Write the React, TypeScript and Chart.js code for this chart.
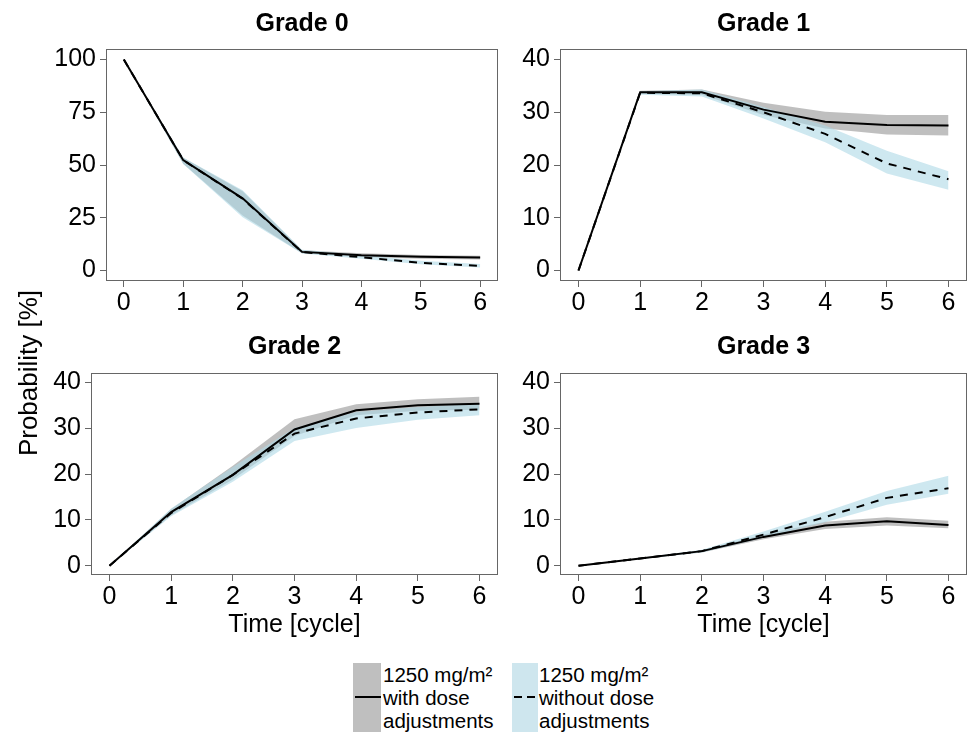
import React, { useEffect, useRef } from "react";
import { Chart, registerables } from "chart.js";

Chart.register(...registerables);

// ---------- data ----------
const cycles = [0, 1, 2, 3, 4, 5, 6];
const xTickValues = [0, 1, 2, 3, 4, 5, 6];
const yTicksGrade0 = [0, 25, 50, 75, 100];
const yTicksOther = [0, 10, 20, 30, 40];

// Grade 0
const g0With = [100, 52.3, 34.2, 8.8, 7.2, 6.5, 6.1];
const g0WithLo = [100, 50.6, 26.0, 8.2, 6.4, 5.6, 5.2];
const g0WithHi = [100, 53.4, 37.6, 9.6, 8.1, 7.3, 7.0];
const g0Without = [100, 52.3, 34.0, 8.7, 6.3, 3.6, 2.2];
const g0WithoutLo = [100, 50.5, 25.2, 8.0, 5.6, 2.9, 1.4];
const g0WithoutHi = [100, 53.5, 38.0, 9.8, 7.3, 4.6, 3.1];

// Grade 1
const g1With = [0, 33.8, 33.8, 30.5, 28.2, 27.6, 27.5];
const g1WithLo = [0, 33.5, 33.3, 29.5, 26.9, 25.8, 25.6];
const g1WithHi = [0, 34.1, 34.3, 31.8, 30.1, 29.5, 29.5];
const g1Without = [0, 33.7, 33.6, 30.0, 25.9, 20.3, 17.3];
const g1WithoutLo = [0, 33.3, 33.0, 28.8, 24.3, 18.4, 15.3];
const g1WithoutHi = [0, 34.0, 34.3, 31.0, 27.5, 22.7, 18.8];

// Grade 2
const g2With = [0, 11.7, 19.8, 29.7, 33.9, 35.0, 35.3];
const g2WithLo = [0, 11.0, 18.8, 28.3, 32.8, 33.8, 34.0];
const g2WithHi = [0, 12.4, 21.8, 31.9, 35.2, 36.3, 36.8];
const g2Without = [0, 11.5, 19.8, 28.8, 32.1, 33.4, 34.1];
const g2WithoutLo = [0, 10.8, 18.3, 27.2, 30.0, 31.8, 32.8];
const g2WithoutHi = [0, 12.5, 21.5, 30.0, 33.5, 34.6, 35.3];

// Grade 3
const g3With = [0, 1.6, 3.2, 6.3, 8.8, 9.7, 8.9];
const g3WithLo = [0, 1.5, 2.9, 5.8, 8.0, 8.8, 8.2];
const g3WithHi = [0, 1.7, 3.4, 6.8, 9.6, 10.6, 9.8];
const g3Without = [0, 1.6, 3.2, 6.8, 10.6, 14.8, 16.9];
const g3WithoutLo = [0, 1.5, 2.9, 6.1, 9.5, 13.3, 15.7];
const g3WithoutHi = [0, 1.7, 3.5, 7.5, 11.8, 16.3, 19.6];

const panelTitles = ["Grade 0", "Grade 1", "Grade 2", "Grade 3"];
const xAxisTitle = "Time [cycle]";
const yAxisTitle = "Probability [%]";
const legendWith = ["1250 mg/m²", "with dose", "adjustments"];
const legendWithout = ["1250 mg/m²", "without dose", "adjustments"];

// ---------- styling ----------
const FONT = "'Liberation Sans', Arial, Helvetica, sans-serif";
const GRAY_BAND = "rgba(128,128,128,0.5)";
const BLUE_BAND = "rgba(173,216,230,0.6)";
const AXIS_COLOR = "#666666";

const borderPlugin = {
  id: "panelBorder",
  afterDatasetsDraw(chart: any) {
    const { ctx, chartArea } = chart;
    const { left, top, right, bottom } = chartArea;
    ctx.save();
    ctx.strokeStyle = AXIS_COLOR;
    ctx.lineWidth = 1;
    ctx.strokeRect(left + 0.5, top + 0.5, right - left - 1, bottom - top - 1);
    ctx.restore();
  },
};

function pts(vals: number[]) {
  return cycles.map((x, i) => ({ x, y: vals[i] }));
}

type PanelProps = {
  title: string;
  withMid: number[];
  withLo: number[];
  withHi: number[];
  withoutMid: number[];
  withoutLo: number[];
  withoutHi: number[];
  yMin: number;
  yMax: number;
  yTicks: number[];
  left: number;
  top: number;
  width: number;
  height: number;
  yWidth: number;
  xHeight: number;
  padRight: number;
  titlePadTop: number;
  titlePadBottom: number;
  showXTitle: boolean;
};

function Panel(p: PanelProps) {
  const ref = useRef<HTMLCanvasElement | null>(null);
  useEffect(() => {
    if (!ref.current) return;
    const hidden = {
      borderWidth: 0,
      borderColor: "rgba(0,0,0,0)",
      pointRadius: 0,
      pointHoverRadius: 0,
      tension: 0,
    };
    const chart = new Chart(ref.current, {
      type: "line",
      data: {
        datasets: [
          {
            label: "with",
            data: pts(p.withMid),
            borderColor: "#000000",
            borderWidth: 2,
            pointRadius: 0,
            tension: 0,
            fill: false,
          },
          {
            label: "without",
            data: pts(p.withoutMid),
            borderColor: "#000000",
            borderWidth: 2,
            borderDash: [8, 7],
            pointRadius: 0,
            tension: 0,
            fill: false,
          },
          { label: "withoutHi", data: pts(p.withoutHi), ...hidden, fill: false },
          {
            label: "withoutLo",
            data: pts(p.withoutLo),
            ...hidden,
            fill: "-1",
            backgroundColor: BLUE_BAND,
          },
          { label: "withHi", data: pts(p.withHi), ...hidden, fill: false },
          {
            label: "withLo",
            data: pts(p.withLo),
            ...hidden,
            fill: "-1",
            backgroundColor: GRAY_BAND,
          },
        ],
      },
      options: {
        responsive: false,
        animation: false,
        devicePixelRatio: 1,
        layout: { padding: { left: 0, right: p.padRight, top: 0, bottom: 0 } },
        plugins: {
          legend: { display: false },
          tooltip: { enabled: false },
          title: {
            display: true,
            text: p.title,
            fullSize: false,
            color: "#000000",
            font: { family: FONT, size: 25, weight: "bold", lineHeight: 1.2 },
            padding: { top: p.titlePadTop, bottom: p.titlePadBottom },
          },
        },
        scales: {
          x: {
            type: "linear",
            min: -0.3,
            max: 6.3,
            afterBuildTicks: (scale: any) => {
              scale.ticks = xTickValues.map((v) => ({ value: v }));
            },
            afterFit: (scale: any) => {
              scale.height = p.xHeight;
            },
            grid: {
              display: true,
              drawOnChartArea: false,
              drawTicks: true,
              tickLength: 6,
              tickColor: AXIS_COLOR,
              tickWidth: 1,
            },
            border: { display: false },
            ticks: {
              color: "#000000",
              font: { family: FONT, size: 25 },
              padding: 1,
              maxRotation: 0,
              autoSkip: false,
              callback: (v: any) => String(v),
            },
            title: {
              display: p.showXTitle,
              text: xAxisTitle,
              color: "#000000",
              font: { family: FONT, size: 25, lineHeight: 1.2 },
              padding: { top: 0, bottom: 10 },
            },
          },
          y: {
            type: "linear",
            min: p.yMin,
            max: p.yMax,
            afterBuildTicks: (scale: any) => {
              scale.ticks = p.yTicks.map((v) => ({ value: v }));
            },
            afterFit: (scale: any) => {
              scale.width = p.yWidth;
            },
            grid: {
              display: true,
              drawOnChartArea: false,
              drawTicks: true,
              tickLength: 6,
              tickColor: AXIS_COLOR,
              tickWidth: 1,
            },
            border: { display: false },
            ticks: {
              color: "#000000",
              font: { family: FONT, size: 25 },
              padding: 4,
              autoSkip: false,
              callback: (v: any) => String(v),
            },
          },
        },
      },
      plugins: [borderPlugin],
    } as any);
    return () => chart.destroy();
  }, []);
  return (
    <canvas
      ref={ref}
      width={p.width}
      height={p.height}
      style={{
        position: "absolute",
        left: p.left,
        top: p.top,
        width: p.width,
        height: p.height,
        display: "block",
      }}
    />
  );
}

export default function App() {
  const textStyle: React.CSSProperties = {
    position: "absolute",
    fontFamily: FONT,
    fontSize: 20.5,
    lineHeight: "23px",
    color: "#000",
    whiteSpace: "nowrap",
  };
  return (
    <div
      style={{
        position: "absolute",
        left: 0,
        top: 0,
        width: 973,
        height: 733,
        background: "#ffffff",
        overflow: "hidden",
      }}
    >
      <Panel
        title={panelTitles[0]}
        withMid={g0With}
        withLo={g0WithLo}
        withHi={g0WithHi}
        withoutMid={g0Without}
        withoutLo={g0WithoutLo}
        withoutHi={g0WithoutHi}
        yMin={-5}
        yMax={105}
        yTicks={yTicksGrade0}
        left={0}
        top={0}
        width={500}
        height={320}
        yWidth={106}
        xHeight={39}
        padRight={2}
        titlePadTop={9}
        titlePadBottom={10}
        showXTitle={false}
      />
      <Panel
        title={panelTitles[1]}
        withMid={g1With}
        withLo={g1WithLo}
        withHi={g1WithHi}
        withoutMid={g1Without}
        withoutLo={g1WithoutLo}
        withoutHi={g1WithoutHi}
        yMin={-2}
        yMax={42}
        yTicks={yTicksOther}
        left={500}
        top={0}
        width={473}
        height={320}
        yWidth={60}
        xHeight={39}
        padRight={6}
        titlePadTop={9}
        titlePadBottom={10}
        showXTitle={false}
      />
      <Panel
        title={panelTitles[2]}
        withMid={g2With}
        withLo={g2WithLo}
        withHi={g2WithHi}
        withoutMid={g2Without}
        withoutLo={g2WithoutLo}
        withoutHi={g2WithoutHi}
        yMin={-2}
        yMax={42}
        yTicks={yTicksOther}
        left={0}
        top={320}
        width={500}
        height={330}
        yWidth={91}
        xHeight={75}
        padRight={2}
        titlePadTop={12}
        titlePadBottom={11}
        showXTitle={true}
      />
      <Panel
        title={panelTitles[3]}
        withMid={g3With}
        withLo={g3WithLo}
        withHi={g3WithHi}
        withoutMid={g3Without}
        withoutLo={g3WithoutLo}
        withoutHi={g3WithoutHi}
        yMin={-2}
        yMax={42}
        yTicks={yTicksOther}
        left={500}
        top={320}
        width={473}
        height={330}
        yWidth={60}
        xHeight={75}
        padRight={6}
        titlePadTop={12}
        titlePadBottom={11}
        showXTitle={true}
      />
      {/* y-axis title */}
      <div
        style={{
          position: "absolute",
          left: 28 - 150,
          top: 373 - 15,
          width: 300,
          height: 30,
          lineHeight: "30px",
          textAlign: "center",
          fontFamily: FONT,
          fontSize: 26,
          color: "#000",
          transform: "rotate(-90deg)",
          transformOrigin: "50% 50%",
          whiteSpace: "nowrap",
        }}
      >
        {yAxisTitle}
      </div>
      {/* legend */}
      <div
        style={{
          position: "absolute",
          left: 353,
          top: 663,
          width: 28,
          height: 69,
          background: "rgb(191,191,191)",
        }}
      />
      <div
        style={{
          position: "absolute",
          left: 355,
          top: 696,
          width: 26,
          height: 2,
          background: "#000",
        }}
      />
      <div style={{ ...textStyle, left: 383, top: 663 }}>
        {legendWith.map((t, i) => (
          <div key={i}>{t}</div>
        ))}
      </div>
      <div
        style={{
          position: "absolute",
          left: 512,
          top: 663,
          width: 26,
          height: 69,
          background: "rgb(206,230,238)",
        }}
      />
      <div
        style={{
          position: "absolute",
          left: 514,
          top: 696,
          width: 22,
          height: 2,
          background:
            "repeating-linear-gradient(90deg, #000 0px, #000 8px, transparent 8px, transparent 13px)",
        }}
      />
      <div style={{ ...textStyle, left: 539, top: 663 }}>
        {legendWithout.map((t, i) => (
          <div key={i}>{t}</div>
        ))}
      </div>
    </div>
  );
}
